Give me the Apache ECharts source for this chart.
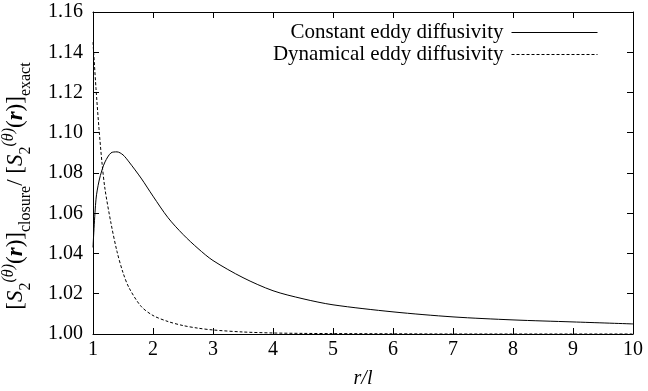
<!DOCTYPE html>
<html><head><meta charset="utf-8">
<script src="https://cdn.jsdelivr.net/npm/echarts@6/dist/echarts.min.js"></script>
<style>html,body{margin:0;padding:0;background:#fff}#c{width:648px;height:391px}</style>
</head><body><div id="c"></div>
<script>
const rValues = [1, 1.05, 1.1, 1.15, 1.2, 1.3, 1.4, 1.5, 1.6, 1.8, 2, 2.25, 2.5, 2.75, 3, 3.5, 4, 4.5, 5, 6, 7, 8, 9, 10];
const constantEddy = [1.043, 1.067, 1.076, 1.0815, 1.0855, 1.0900, 1.0905, 1.089, 1.0855, 1.0775, 1.0685, 1.0578, 1.0495, 1.0425, 1.0365, 1.028, 1.0215, 1.0175, 1.0145, 1.011, 1.0085, 1.007, 1.006, 1.005];
const dynamicalEddy = [1.145, 1.122, 1.102, 1.085, 1.072, 1.055, 1.041, 1.0305, 1.023, 1.0138, 1.0092, 1.0062, 1.0042, 1.0029, 1.002, 1.001, 1.0005, 1.0003, 1.0002, 1.0001, 1.0, 1.0, 1.0, 1.0];
const seriesNames = ['Constant eddy diffusivity', 'Dynamical eddy diffusivity'];
const xTicks = [1, 2, 3, 4, 5, 6, 7, 8, 9, 10];
const yTicks = [1.00, 1.02, 1.04, 1.06, 1.08, 1.10, 1.12, 1.14, 1.16];

const F = "'Liberation Serif', 'Times New Roman', serif";
const chart = echarts.init(document.getElementById('c'), null, {renderer: 'canvas'});
const pair = (ys) => rValues.map((r, i) => [r, ys[i]]);
const tickCommon = {show: true, inside: true, length: 6, lineStyle: {color: '#000', width: 1}};
const lineCommon = {show: true, onZero: false, lineStyle: {color: '#000', width: 1}};
const legendBase = {
  orient: 'horizontal', align: 'right', right: 50, left: 'auto', bottom: 'auto',
  itemWidth: 86, itemHeight: 14, itemGap: 0, padding: 0,
  itemStyle: {opacity: 0}, lineStyle: {width: 1, color: '#000'},
  textStyle: {fontFamily: F, fontSize: 21, color: '#000', padding: [0, 3, 0, 0]}
};
chart.setOption({
  animation: false,
  backgroundColor: '#fff',
  textStyle: {fontFamily: F},
  grid: {left: 93, right: 15, top: 12, bottom: 57, outerBoundsMode: 'none', containLabel: false},
  legend: [
    Object.assign({}, legendBase, {top: 22, data: [seriesNames[0]]}),
    Object.assign({}, legendBase, {top: 44, data: [seriesNames[1]]})
  ],
  xAxis: [{
    type: 'value', min: 1, max: 10, interval: 1, position: 'bottom',
    axisLine: lineCommon, axisTick: tickCommon, splitLine: {show: false},
    axisLabel: {fontFamily: F, fontSize: 20, color: '#000', margin: 6, formatter: v => xTicks.includes(v) ? String(v) : ''},
    name: 'r/l', nameLocation: 'middle', nameGap: 35,
    nameTextStyle: {fontFamily: F, fontSize: 20, fontStyle: 'italic', color: '#000'}
  }, {
    type: 'value', min: 1, max: 10, interval: 1, position: 'top',
    axisLine: lineCommon, axisTick: tickCommon, splitLine: {show: false}, axisLabel: {show: false}
  }],
  yAxis: [{
    type: 'value', min: 1.0, max: 1.16, interval: 0.02, position: 'left',
    axisLine: lineCommon, axisTick: tickCommon, splitLine: {show: false},
    axisLabel: {fontFamily: F, fontSize: 20, color: '#000', margin: 10, formatter: v => v.toFixed(2)},
    name: '{t|[}{i|S}{s|2}{p|(θ)}{t|(}{b|r}{t|)]}{s|closure}{t|/ [}{i|S}{s|2}{p|(θ)}{t|(}{b|r}{t|)]}{s|exact}',
    nameLocation: 'middle', nameRotate: 90, nameGap: 62,
    nameTextStyle: {
      fontFamily: F, color: '#000', padding: [0, 26, 0, 0],
      rich: {
        t: {fontFamily: F, fontSize: 23, color: '#000', verticalAlign: 'middle', lineHeight: 30},
        i: {fontFamily: F, fontSize: 23, fontStyle: 'italic', color: '#000', verticalAlign: 'middle', lineHeight: 30},
        b: {fontFamily: F, fontSize: 23, fontStyle: 'italic', fontWeight: 'bold', color: '#000', verticalAlign: 'middle', lineHeight: 30},
        s: {fontFamily: F, fontSize: 16, color: '#000', verticalAlign: 'bottom', lineHeight: 30, padding: [0, 0, -3, 0]},
        p: {fontFamily: F, fontSize: 16, fontStyle: 'italic', color: '#000', verticalAlign: 'top', lineHeight: 30, padding: [0, 0, 0, 0]}
      }
    }
  }, {
    type: 'value', min: 1.0, max: 1.16, interval: 0.02, position: 'right',
    axisLine: lineCommon, axisTick: tickCommon, splitLine: {show: false}, axisLabel: {show: false}
  }],
  series: [{
    name: seriesNames[0], type: 'line', smooth: 0.3, symbol: 'none', xAxisIndex: 0, yAxisIndex: 0,
    lineStyle: {color: '#000', width: 1, type: 'solid'}, itemStyle: {color: '#000'},
    data: pair(constantEddy)
  }, {
    name: seriesNames[1], type: 'line', smooth: 0.3, symbol: 'none', xAxisIndex: 0, yAxisIndex: 0,
    lineStyle: {color: '#000', width: 1, type: [3, 2]}, itemStyle: {color: '#000'},
    data: pair(dynamicalEddy)
  }]
});
</script></body></html>
